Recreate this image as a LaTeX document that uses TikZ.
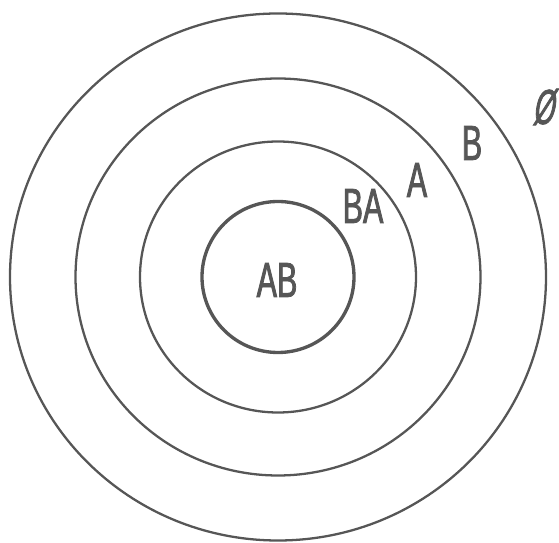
\documentclass[tikz,border=0pt]{standalone}
\usepackage{fontspec}
\usepackage{xcolor}
\usetikzlibrary{positioning}
\newfontfamily\ringfont{Liberation Sans}[FakeStretch=0.62, FakeBold=1.6]
\newfontfamily\slantfont{Liberation Sans}[FakeStretch=0.55, FakeBold=1.6, FakeSlant=0.18]
\definecolor{ringgray}{RGB}{86,86,86}

\begin{document}
\begin{tikzpicture}[
  x=0.02cm, y=-0.02cm,
  every node/.style={font=\ringfont\fontsize{28}{30}\selectfont, text=ringgray, inner sep=0pt},
  ring/.style={draw=ringgray, line width=1.3pt},
  core/.style={ring, line width=1.9pt}
]
  \useasboundingbox (0,0) rectangle (559,543);
  \coordinate (centre) at (278,277);

  % nested rings, outermost first
  \draw[ring] (centre) ellipse [x radius=268, y radius=263.5];
  \draw[ring] (centre) ellipse [x radius=202.5, y radius=198.5];
  \draw[ring] (centre) ellipse [x radius=138, y radius=135.5];
  \draw[core] (centre) ellipse [x radius=76, y radius=75.5];

  \node (ab) at (277,280) {AB};
  \node (ba) at (363,206) {BA};
  \node (a) at (417,180) {A};
  \node (b) at (472,143) {B};
  \node[font=\slantfont\fontsize{28}{30}\selectfont] (empty) at (543,107) {Ø};
\end{tikzpicture}
\end{document}
